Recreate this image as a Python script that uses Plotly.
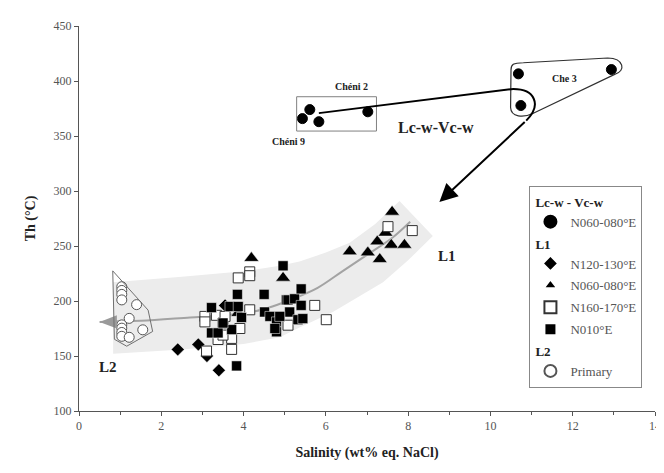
import plotly.graph_objects as go

# ---------------- data ----------------
# Lc-w - Vc-w, N060-080°E (filled circles)
lcw_x = [5.43, 5.61, 5.83, 7.02, 10.68, 12.94, 10.74]
lcw_y = [365.8, 374.0, 363.0, 372.0, 406.5, 410.4, 377.7]

# L1, N120-130°E (diamonds)
d_x = [2.40, 2.90, 3.11, 3.40, 3.55]
d_y = [156.0, 160.5, 150.0, 137.0, 196.0]

# L1, N060-080°E (triangles)
t_x = [3.87, 4.19, 4.96, 6.58, 7.02, 7.31, 7.25, 7.45, 7.59, 7.91, 7.61]
t_y = [189.0, 239.0, 221.0, 245.0, 244.0, 238.0, 254.0, 262.0, 251.0, 251.0, 281.0]

# L1, N160-170°E (open squares)
os_x = [3.87, 4.15, 4.15, 3.06, 3.06, 3.34, 3.50, 3.91, 3.71, 3.38, 3.71, 3.10,
        4.15, 7.51, 8.10, 5.73, 6.01, 5.08, 3.55, 3.50]
os_y = [221.0, 226.5, 223.0, 186.0, 181.0, 187.0, 180.0, 175.0, 166.0, 165.0,
        156.0, 154.5, 192.0, 267.6, 264.0, 196.0, 183.0, 178.0, 186.0, 169.0]

# L1, N010°E (filled squares)
fs_x = [3.22, 3.67, 3.85, 3.87, 3.22, 3.38, 3.71, 3.83, 4.50, 4.51, 4.64, 4.80,
        4.80, 4.96, 5.04, 5.08, 5.24, 5.40, 5.40, 5.12, 5.32, 5.44, 4.88, 4.76,
        3.50, 3.95]
fs_y = [194.0, 195.0, 206.0, 195.0, 171.0, 171.0, 174.0, 141.0, 206.0, 190.0,
        186.0, 181.0, 172.0, 232.0, 201.0, 201.0, 202.0, 211.0, 196.0, 190.0,
        183.0, 184.0, 186.0, 175.0, 180.0, 185.0]

# L2, Primary (open circles)
p_x = [1.04, 1.04, 1.04, 1.04, 1.40, 1.22, 1.04, 1.04, 1.04, 1.04, 1.22, 1.55]
p_y = [213.0, 209.6, 206.0, 201.0, 196.7, 184.2, 178.3, 175.3, 171.4, 167.9,
       167.0, 173.8]

# trend curve (grey) of L1 -> L2
trend_x = [0.5, 1.5, 2.7, 3.5, 4.2, 4.7, 5.2, 5.8, 6.4, 7.0, 7.6, 8.05]
trend_y = [181, 182, 185, 187, 190, 195, 202, 212, 227, 242, 257, 272]

# grey band around the trend
band_up_x = [0.83, 2.5, 4.0, 4.88, 5.36, 6.0, 6.58, 7.2, 7.79]
band_up_y = [217, 222, 227, 232, 236, 244, 253, 270, 291]
band_lo_x = [8.6, 8.0, 7.39, 6.17, 5.36, 4.88, 4.0, 2.5, 0.83]
band_lo_y = [259, 237, 217, 190, 176, 167, 161, 156, 152]

# enclosure of L2 primary inclusions
l2_poly_x = [0.82, 1.68, 1.79, 1.16, 0.86]
l2_poly_y = [227.4, 191.7, 172.3, 158.9, 165.2]

x_ticks = [0, 2, 4, 6, 8, 10, 12, 14]
y_ticks = [100, 150, 200, 250, 300, 350, 400, 450]

FONT = "Liberation Serif, Times New Roman, serif"
TICKFONT = dict(family=FONT, size=12, color="#555")

fig = go.Figure()

# band
band_path = "M " + " L ".join(f"{x},{y}" for x, y in zip(band_up_x + band_lo_x,
                                                         band_up_y + band_lo_y)) + " Z"
fig.add_shape(type="path", path=band_path, xref="x", yref="y", layer="below",
              fillcolor="#ececec", line=dict(width=0))

# trend line
fig.add_trace(go.Scatter(x=trend_x, y=trend_y, mode="lines", showlegend=False,
                         line=dict(color="#a3a3a3", width=2, shape="spline"),
                         hoverinfo="skip"))

# grey arrow head at left end of trend
fig.add_shape(type="path",
              path=f"M {trend_x[0]},{trend_y[0]} L {trend_x[0]+0.42},{trend_y[0]+6} "
                   f"L {trend_x[0]+0.42},{trend_y[0]-6} Z",
              xref="x", yref="y", fillcolor="#9a9a9a", line=dict(width=0))

# L2 polygon
poly_path = "M " + " L ".join(f"{x},{y}" for x, y in zip(l2_poly_x, l2_poly_y)) + " Z"
fig.add_shape(type="path", path=poly_path, xref="x", yref="y",
              line=dict(color="#707070", width=1))

# Chéni box
fig.add_shape(type="rect", x0=5.29, y0=354.5, x1=7.23, y1=385.7, xref="x", yref="y",
              line=dict(color="#808080", width=1))

# Che 3 enclosure
fig.add_shape(type="path", xref="x", yref="y", line=dict(color="#303030", width=1.2),
              path="M 10.50,410 C 10.50,415 10.55,416.5 10.8,416.6 L 12.85,420.9 "
                   "C 13.25,420.5 13.3,409 13.02,406 L 11.03,370.5 "
                   "C 10.8,366.5 10.5,367 10.49,376 Z")

# black curved path
fig.add_shape(type="path", xref="x", yref="y", line=dict(color="black", width=2),
              path="M 5.83,370.8 Q 8.6,384 10.5,392.6 C 11.1,393.5 11.25,378 10.87,364")

# black arrow
fig.add_annotation(x=8.76, y=290, ax=10.87, ay=364, xref="x", yref="y",
                   axref="x", ayref="y", text="", showarrow=True,
                   arrowhead=2, arrowsize=1.8, arrowwidth=2, arrowcolor="black")

# markers
fig.add_trace(go.Scatter(x=lcw_x, y=lcw_y, mode="markers", name="N060-080°E",
                         legendgroup="g1",
                         legendgrouptitle=dict(text="<b>Lc-w - Vc-w</b>"),
                         marker=dict(symbol="circle", size=10, color="black",
                                     line=dict(color="black", width=1))))
fig.add_trace(go.Scatter(x=d_x, y=d_y, mode="markers", name="N120-130°E",
                         legendgroup="g2a", legendgrouptitle=dict(text="<b>L1</b>"),
                         marker=dict(symbol="diamond", size=10, color="black",
                                     line=dict(color="white", width=0.5))))
fig.add_trace(go.Scatter(x=t_x, y=t_y, mode="markers", name="N060-080°E",
                         legendgroup="g2b",
                         marker=dict(symbol="triangle-up", size=13, color="black",
                                     line=dict(color="white", width=0.5))))
fig.add_trace(go.Scatter(x=os_x, y=os_y, mode="markers", name="N160-170°E",
                         legendgroup="g2c",
                         marker=dict(symbol="square", size=10, color="white",
                                     line=dict(color="#333", width=1))))
fig.add_trace(go.Scatter(x=fs_x, y=fs_y, mode="markers", name="N010°E",
                         legendgroup="g2d",
                         marker=dict(symbol="square", size=10, color="black",
                                     line=dict(color="white", width=0.5))))
fig.add_trace(go.Scatter(x=p_x, y=p_y, mode="markers", name="Primary",
                         legendgroup="g3", legendgrouptitle=dict(text="<b>L2</b>"),
                         marker=dict(symbol="circle", size=10, color="white",
                                     line=dict(color="#555", width=1))))

# text annotations
def txt(x, y, s, size, bold=True):
    fig.add_annotation(x=x, y=y, xref="x", yref="y", showarrow=False,
                       text=f"<b>{s}</b>" if bold else s,
                       font=dict(family=FONT, size=size, color="#222"))

txt(6.63, 395, "Chéni 2", 10)
txt(5.10, 344.6, "Chéni 9", 10)
txt(11.8, 402, "Che 3", 10)
txt(8.68, 358, "Lc-w-Vc-w", 16)
txt(8.95, 241, "L1", 15)
txt(0.71, 139.6, "L2", 15)

# the page body adds an 8 px offset; margins compensate for it
fig.update_layout(
    width=664, height=473,
    margin=dict(l=71, r=16, t=11, b=70),
    paper_bgcolor="white", plot_bgcolor="white",
    font=dict(family=FONT, size=12, color="#555"),
    legend=dict(x=0.782, y=0.585, xanchor="left", yanchor="top",
                bordercolor="#888", borderwidth=1, bgcolor="white",
                font=dict(family=FONT, size=13, color="#555"),
                grouptitlefont=dict(family=FONT, size=13, color="#222"),
                tracegroupgap=2, traceorder="grouped", itemsizing="constant",
                entrywidth=92),
    xaxis=dict(range=[0, 14], tickvals=x_ticks, ticks="outside", ticklen=4,
               showgrid=False, zeroline=False, showline=True, linecolor="#555",
               tickcolor="#555", tickfont=TICKFONT,
               minor=dict(dtick=1, ticks="outside", ticklen=3, tickcolor="#555"),
               title=dict(text="<b>Salinity (wt% eq. NaCl)</b>", standoff=14,
                          font=dict(family=FONT, size=14, color="#222"))),
    yaxis=dict(range=[100, 450], tickvals=y_ticks, ticks="outside", ticklen=4,
               showgrid=False, zeroline=False, showline=True, linecolor="#555",
               tickcolor="#555", tickfont=TICKFONT,
               title=dict(text="<b>Th (°C)</b>", standoff=14,
                          font=dict(family=FONT, size=14, color="#222"))),
)

fig.write_html("out.html")
